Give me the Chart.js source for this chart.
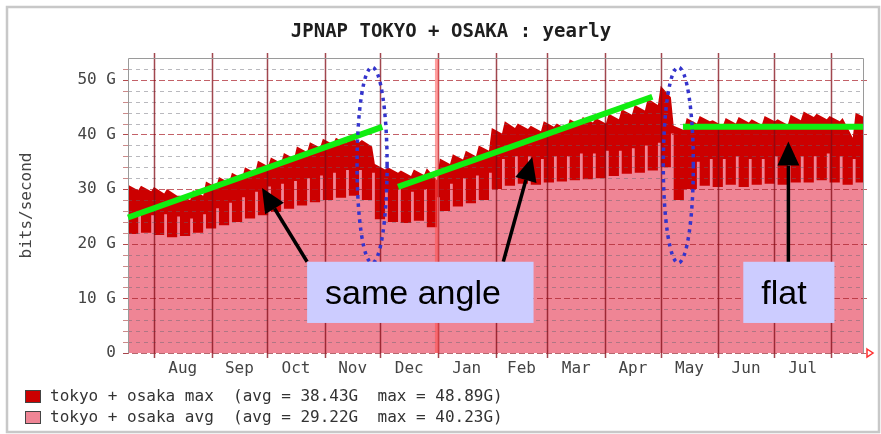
<!DOCTYPE html>
<html>
<head>
<meta charset="utf-8">
<script src="https://cdn.jsdelivr.net/npm/chart.js@4.4.0/dist/chart.umd.min.js"></script>
<style>
  html, body { margin: 0; padding: 0; background: #fff; }
  #wrap { width: 881px; height: 434px; }
</style>
</head>
<body>
<div id="wrap"><canvas id="c" width="881" height="434"></canvas></div>
<script>
// x axis is in days counted from Jul 18; one entry per week in the series arrays
const monthStarts = [14, 45, 75, 106, 136, 167, 198, 226, 257, 287, 318, 348, 379];
const monthNames = ['Aug', 'Sep', 'Oct', 'Nov', 'Dec', 'Jan', 'Feb', 'Mar', 'Apr', 'May', 'Jun', 'Jul'];
const yearStart = 167;
const yTicks = [0, 10, 20, 30, 40, 50];

// tokyo + osaka max, Gbit/s (weekday level / weekend notch)
const maxPeak = [30.8, 30.6, 30.4, 30.0, 28.8, 29.8, 31.4, 32.2, 33.0, 34.0,
                 35.2, 35.8, 36.6, 37.8, 38.6, 39.2, 39.4, 39.6, 39.0, 34.6,
                 34.0, 33.4, 33.6, 33.8, 35.6, 36.4, 37.0, 38.0, 41.2, 42.4,
                 42.0, 41.6, 42.4, 42.0, 42.8, 43.2, 43.0, 43.8, 44.6, 45.4,
                 46.6, 48.9, 41.6, 43.0, 43.4, 42.6, 43.0, 43.2, 42.8, 43.4,
                 42.8, 43.6, 44.2, 43.8, 43.4, 43.0, 44.0];
const maxDip = [29.8, 29.6, 29.2, 28.8, 28.0, 28.8, 30.4, 31.2, 32.0, 33.0,
                34.2, 34.8, 35.6, 36.8, 37.6, 38.2, 38.4, 38.6, 37.8, 33.6,
                33.0, 32.4, 32.6, 31.6, 34.6, 35.4, 36.0, 37.0, 40.2, 41.2,
                41.0, 40.6, 41.4, 41.0, 41.8, 42.2, 42.0, 42.8, 43.6, 44.4,
                45.4, 46.8, 40.8, 42.0, 42.4, 41.6, 42.0, 42.2, 41.8, 42.4,
                41.8, 42.6, 43.2, 42.8, 42.4, 39.4, 43.0];

// tokyo + osaka avg, Gbit/s (low level / short spike)
const avgDip = [21.8, 22.0, 21.6, 21.2, 21.4, 22.0, 22.8, 23.4, 24.0, 24.6,
                25.2, 25.8, 26.4, 27.0, 27.6, 28.0, 28.4, 28.8, 28.0, 24.5,
                24.0, 23.8, 24.2, 23.0, 26.0, 26.8, 27.4, 28.0, 30.0, 30.6,
                31.0, 30.8, 31.2, 31.4, 31.6, 31.8, 32.0, 32.4, 32.8, 33.0,
                33.4, 34.0, 28.0, 30.0, 30.6, 30.4, 30.8, 30.4, 30.8, 31.0,
                30.8, 31.2, 31.2, 31.6, 31.2, 30.8, 31.2];
const avgPeak = [25.5, 25.2, 25.4, 25.0, 24.6, 25.4, 26.5, 27.5, 28.5, 29.5,
                 30.5, 31.0, 31.5, 32.0, 32.5, 33.0, 33.5, 33.5, 33.0, 30.0,
                 30.0, 29.5, 30.0, 28.5, 31.0, 32.0, 32.5, 33.0, 35.5, 36.0,
                 36.0, 35.5, 36.0, 36.0, 36.5, 36.5, 37.0, 37.0, 37.5, 38.0,
                 38.5, 40.2, 30.0, 35.0, 35.5, 35.5, 36.0, 35.5, 35.5, 36.0,
                 35.5, 36.0, 36.0, 36.5, 36.0, 35.5, 36.5];

const legendNames = ['tokyo + osaka max', 'tokyo + osaka avg'];
const legendStats = ['(avg = 38.43G  max = 48.89G)', '(avg = 29.22G  max = 40.23G)'];

// annotations, in (day, Gbit/s)
const trendLines = [[[0, 24.8], [137, 41.4]], [[145.5, 30.4], [282.5, 46.9]], [[299, 41.4], [396, 41.4]]];
const ovals = [[131.5, 34.4, 8.1, 17.9], [296.5, 34.4, 8.1, 17.9]];
const arrows = [[[96.5, 16.7], [72.2, 30.2]], [[202.2, 16.7], [217.8, 35.9]], [[355.8, 16.6], [355.8, 38.7]]];
const callouts = [
  { text: 'same angle', x0: 96.5, x1: 218.5, y0: 16.7, y1: 5.5 },
  { text: 'flat', x0: 331.5, x1: 380.6, y0: 16.7, y1: 5.5 }
];

const RED = '#cc0000';
const PINK = '#ef8595';
const MONO = '"DejaVu Sans Mono", monospace';

// two values per week: first from the start of the week, second from day `at`
function weekly(first, second, at) {
  const pts = [];
  first.forEach((v, w) => {
    pts.push({ x: w * 7, y: v });
    pts.push({ x: w * 7 + at, y: second[w] });
  });
  return pts;
}

const rrdGrid = {
  id: 'rrdGrid',
  afterDatasetsDraw(chart) {
    const { ctx, chartArea: a, scales: { x, y } } = chart;
    ctx.save();
    ctx.lineWidth = 1;
    // minor lines every 2G
    ctx.setLineDash([4, 4]);
    ctx.strokeStyle = 'rgba(100,100,110,0.45)';
    for (let v = 2; v < 54; v += 2) {
      if (v % 10 === 0) continue;
      const py = Math.round(y.getPixelForValue(v)) + 0.5;
      ctx.beginPath(); ctx.moveTo(a.left, py); ctx.lineTo(a.right, py); ctx.stroke();
    }
    // major lines every 10G
    ctx.setLineDash([6, 3]);
    ctx.strokeStyle = 'rgba(170,30,40,0.7)';
    yTicks.forEach(v => {
      if (v === 0) return;
      const py = Math.round(y.getPixelForValue(v)) + 0.5;
      ctx.beginPath(); ctx.moveTo(a.left - 5, py); ctx.lineTo(a.right + 4, py); ctx.stroke();
    });
    // small tick marks on the left
    ctx.setLineDash([]);
    ctx.strokeStyle = 'rgba(170,60,60,0.6)';
    for (let v = 0; v <= 52; v += 2) {
      const py = Math.round(y.getPixelForValue(v)) + 0.5;
      ctx.beginPath(); ctx.moveTo(a.left - 5, py); ctx.lineTo(a.left, py); ctx.stroke();
    }
    // month lines
    ctx.strokeStyle = 'rgba(130,10,20,0.75)';
    ctx.lineWidth = 1.5;
    monthStarts.forEach(d => {
      const px = Math.round(x.getPixelForValue(d)) + 0.5;
      ctx.beginPath(); ctx.moveTo(px, a.top - 5); ctx.lineTo(px, a.bottom + 5); ctx.stroke();
    });
    // year boundary
    ctx.strokeStyle = 'rgba(255,80,80,0.55)';
    ctx.lineWidth = 4;
    const yx = x.getPixelForValue(yearStart) - 1;
    ctx.beginPath(); ctx.moveTo(yx, a.top); ctx.lineTo(yx, a.bottom); ctx.stroke();
    // frame
    ctx.lineWidth = 1;
    ctx.strokeStyle = '#9a9a9a';
    ctx.beginPath();
    ctx.moveTo(a.left + 0.5, a.bottom); ctx.lineTo(a.left + 0.5, a.top + 0.5);
    ctx.lineTo(a.right + 0.5, a.top + 0.5); ctx.lineTo(a.right + 0.5, a.bottom);
    ctx.stroke();
    ctx.strokeStyle = 'rgba(150,40,50,0.7)';
    ctx.setLineDash([6, 3]);
    ctx.beginPath(); ctx.moveTo(a.left - 5, a.bottom + 0.5); ctx.lineTo(a.right + 3, a.bottom + 0.5); ctx.stroke();
    ctx.setLineDash([]);
    // axis arrow
    ctx.strokeStyle = '#ff3030';
    ctx.lineWidth = 1.5;
    ctx.beginPath();
    ctx.moveTo(a.right + 4, a.bottom - 4); ctx.lineTo(a.right + 10, a.bottom); ctx.lineTo(a.right + 4, a.bottom + 4); ctx.closePath();
    ctx.stroke();
    ctx.restore();
  }
};

const notes = {
  id: 'notes',
  afterDraw(chart) {
    const { ctx, scales: { x, y } } = chart;
    const P = ([d, v]) => [x.getPixelForValue(d), y.getPixelForValue(v)];
    ctx.save();

    // outer frame
    ctx.strokeStyle = '#c8c8c8';
    ctx.lineWidth = 2.5;
    ctx.strokeRect(7, 7, 872, 425);

    // title
    ctx.fillStyle = '#1e1e1e';
    ctx.font = 'bold 19px ' + MONO;
    ctx.textAlign = 'center';
    ctx.textBaseline = 'middle';
    ctx.fillText('JPNAP TOKYO + OSAKA : yearly', 451, 32);

    // legend
    ctx.font = '16px ' + MONO;
    ctx.textAlign = 'left';
    [RED, PINK].forEach((c, i) => {
      const ly = 396 + i * 21;
      ctx.fillStyle = c;
      ctx.fillRect(25, ly - 6, 16, 13);
      ctx.strokeStyle = '#444';
      ctx.lineWidth = 1;
      ctx.strokeRect(25.5, ly - 5.5, 15, 12);
      ctx.fillStyle = '#333';
      ctx.fillText(legendNames[i] + '  ' + legendStats[i], 50, ly + 1);
    });

    // green trend lines
    ctx.strokeStyle = '#11ee11';
    ctx.lineWidth = 6;
    trendLines.forEach(([p0, p1]) => {
      const [ax, ay] = P(p0), [bx, by] = P(p1);
      ctx.beginPath(); ctx.moveTo(ax, ay); ctx.lineTo(bx, by); ctx.stroke();
    });

    // dotted ovals
    ctx.strokeStyle = '#3434cc';
    ctx.lineWidth = 3.5;
    ctx.setLineDash([3.5, 4.5]);
    ovals.forEach(([d, v, rd, rv]) => {
      const [cx, cy] = P([d, v]);
      const rx = x.getPixelForValue(d + rd) - cx;
      const ry = cy - y.getPixelForValue(v + rv);
      ctx.beginPath(); ctx.ellipse(cx, cy, rx, ry, 0, 0, Math.PI * 2); ctx.stroke();
    });
    ctx.setLineDash([]);

    // arrows
    ctx.strokeStyle = '#000';
    ctx.fillStyle = '#000';
    ctx.lineWidth = 3.5;
    arrows.forEach(([from, to]) => {
      const [ax, ay] = P(from), [bx, by] = P(to);
      const ang = Math.atan2(by - ay, bx - ax);
      const len = 24, half = 11;
      const hx = bx - len * Math.cos(ang), hy = by - len * Math.sin(ang);
      ctx.beginPath(); ctx.moveTo(ax, ay); ctx.lineTo(hx, hy); ctx.stroke();
      ctx.beginPath();
      ctx.moveTo(bx, by);
      ctx.lineTo(hx + half * Math.sin(ang), hy - half * Math.cos(ang));
      ctx.lineTo(hx - half * Math.sin(ang), hy + half * Math.cos(ang));
      ctx.closePath(); ctx.fill();
    });

    // callout boxes
    callouts.forEach(c => {
      const [ax, ay] = P([c.x0, c.y0]), [bx, by] = P([c.x1, c.y1]);
      ctx.fillStyle = '#ccccff';
      ctx.fillRect(ax, ay, bx - ax, by - ay);
      ctx.fillStyle = '#000';
      ctx.font = '34px "Liberation Sans", Arial, sans-serif';
      ctx.textBaseline = 'alphabetic';
      ctx.fillText(c.text, ax + 18, y.getPixelForValue(9.0));
    });
    ctx.restore();
  }
};

new Chart(document.getElementById('c'), {
  type: 'line',
  data: {
    datasets: [
      { label: legendNames[1], data: weekly(avgDip, avgPeak, 5.5), backgroundColor: PINK, borderWidth: 0, pointRadius: 0, fill: 'origin', stepped: true, order: 0 },
      { label: legendNames[0], data: weekly(maxPeak, maxDip, 5.5), backgroundColor: RED, borderWidth: 0, pointRadius: 0, fill: 'origin', tension: 0, order: 1 }
    ]
  },
  options: {
    responsive: false,
    animation: false,
    devicePixelRatio: 1,
    layout: { padding: { left: 0, top: 58, right: 18, bottom: 0 } },
    plugins: { legend: { display: false }, tooltip: { enabled: false }, title: { display: false } },
    scales: {
      x: {
        type: 'linear', min: 0, max: 396,
        grid: { display: false, drawTicks: false },
        border: { display: false },
        afterBuildTicks: s => {
          s.ticks = monthNames.map((m, i) => ({ value: (monthStarts[i] + monthStarts[i + 1]) / 2 }));
        },
        afterFit: s => { s.height = 81; },
        ticks: {
          autoSkip: false, maxRotation: 0, padding: 6,
          color: '#444', font: { family: MONO, size: 16 },
          callback: (v, i) => monthNames[i]
        }
      },
      y: {
        min: 0, max: 54,
        grid: { display: false, drawTicks: false },
        border: { display: false },
        afterBuildTicks: s => { s.ticks = yTicks.map(v => ({ value: v })); },
        afterFit: s => { s.width = 128; },
        ticks: {
          padding: 12, color: '#444', font: { family: MONO, size: 16 },
          callback: v => v === 0 ? '0' : v + ' G'
        },
        title: {
          display: true, text: 'bits/second', color: '#444',
          font: { family: MONO, size: 16 }, padding: { top: 17, bottom: 0 }
        }
      }
    }
  },
  plugins: [rrdGrid, notes]
});
</script>
</body>
</html>
